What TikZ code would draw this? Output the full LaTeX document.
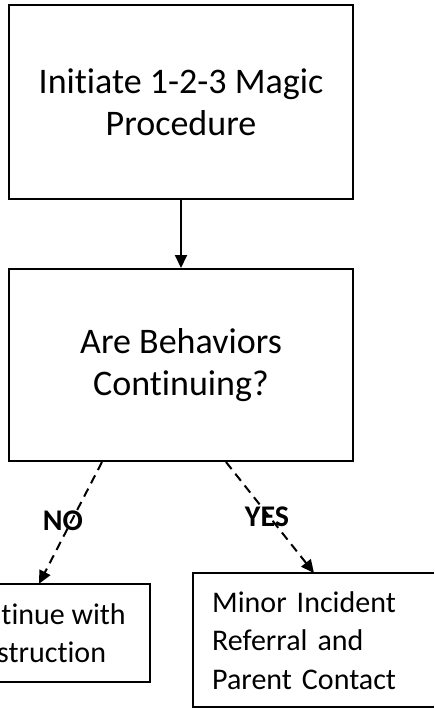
\documentclass[tikz,border=0pt]{standalone}
\usepackage{fontspec}
\setmainfont[Ligatures=NoCommon]{Carlito}
\usetikzlibrary{arrows.meta}
\begin{document}
\begin{tikzpicture}[x=1pt,y=-1pt,
  box/.style={draw=black,line width=2pt,inner sep=0pt},
  frame/.style={draw=black,line width=2pt},
  bigtxt/.style={font=\fontsize{36}{42}\selectfont,align=center},
  smalltxt/.style={font=\fontsize{30}{38.5}\selectfont},
  lbl/.style={font=\fontsize{30}{36}\selectfont\bfseries,inner sep=0pt,anchor=base},
  solidarrow/.style={line width=2pt,-{Triangle[length=13pt,width=12pt]}},
  dasharrow/.style={line width=2pt,dash pattern=on 9pt off 6pt,-{Triangle[length=13pt,width=12pt]}}
]
\useasboundingbox (0,0) rectangle (434,708);
\fill[white] (0,0) rectangle (434,708);
\clip (0,0) rectangle (434,708);
\coordinate (rightedge) at (434,0);
\coordinate (leftedge) at (0,0);

\node[box,bigtxt,minimum width=344pt,minimum height=194pt] (init) at (181,102)
  {Initiate 1-2-3 Magic\\Procedure};
\node[box,bigtxt,minimum width=344pt,minimum height=192pt] (q) at (181,365)
  {Are Behaviors\\Continuing?};
\node[smalltxt,align=center,inner sep=0pt,minimum width=220pt,minimum height=98pt] (cont) at (40,633)
  {Continue with\\Instruction};
\node[smalltxt,align=left,anchor=north west,inner sep=0pt,inner xsep=19pt,text width=260pt,minimum height=134pt] (minor) at (193,573)
  {Minor Incident\\Referral and\\Parent Contact};
\draw[frame] (cont.north -| leftedge) -- (cont.north east) -- (cont.south east) -- (cont.south -| leftedge);
\draw[frame] (minor.north -| rightedge) -- (minor.north west) -- (minor.south west) -- (minor.south -| rightedge);

\draw[solidarrow] (init.south) -- (q.north);
\draw[dasharrow] ([xshift=-79pt]q.south) -- ([xshift=-1pt]cont.north);
\draw[dasharrow] ([xshift=45pt]q.south) -- ([xshift=121pt]minor.north west);

\node[lbl] (no) at (63,530) {NO};
\node[lbl] (yes) at (267,526) {YES};
\end{tikzpicture}
\end{document}
